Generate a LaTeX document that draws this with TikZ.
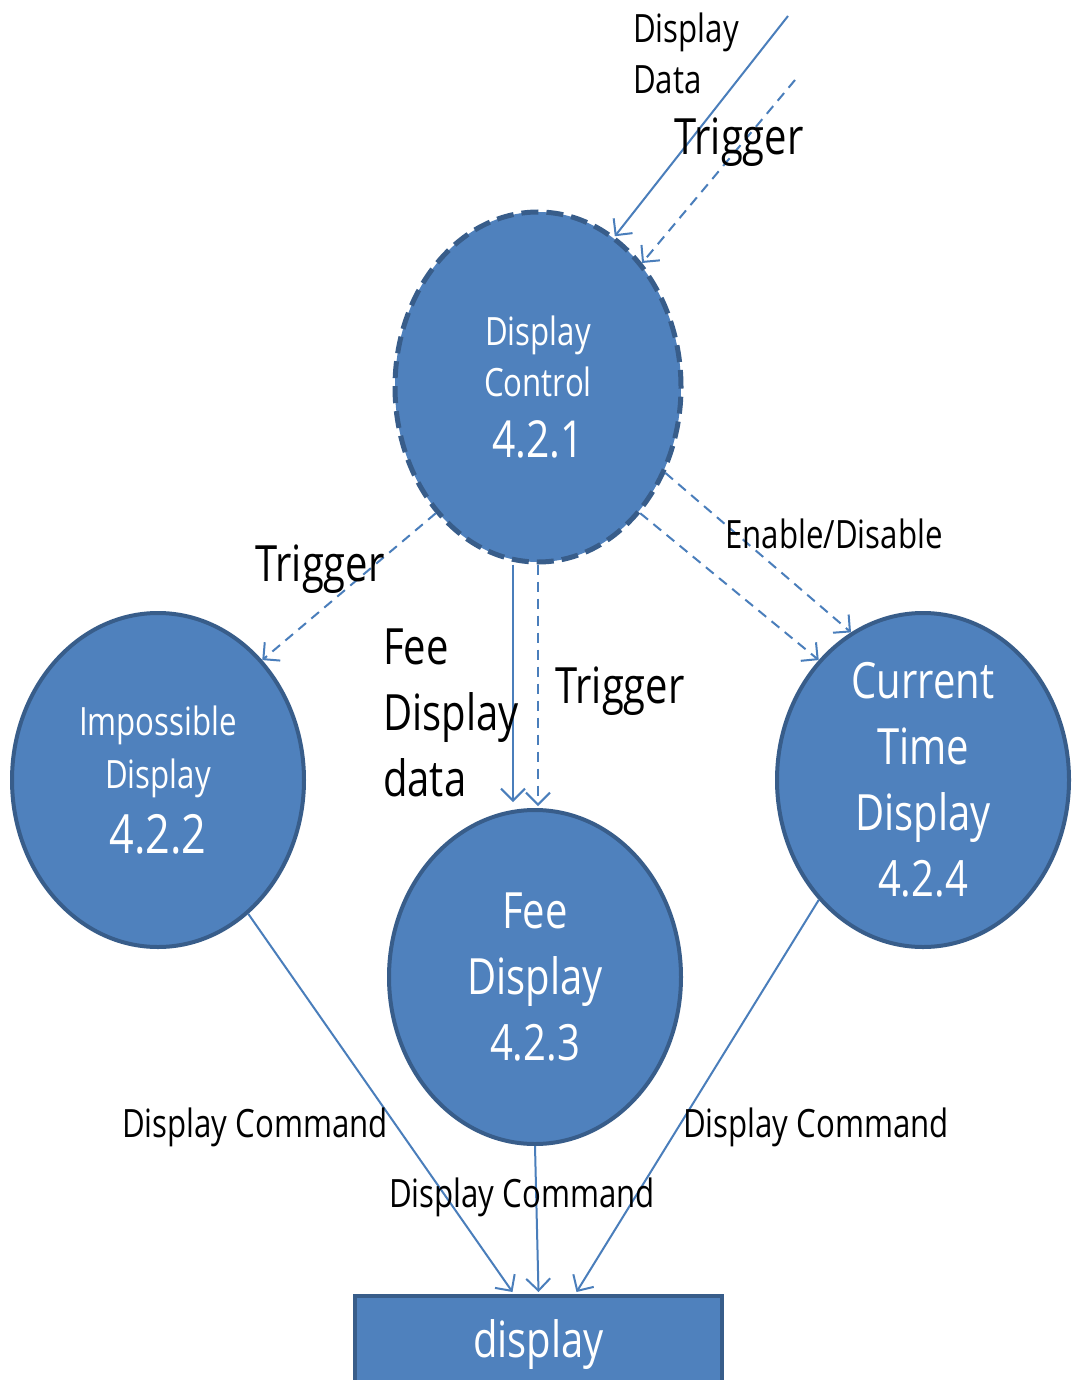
\documentclass[tikz,border=0pt]{standalone}
\usepackage{fontspec}
\setmainfont{Open Sans}[FakeStretch=0.8]
\usetikzlibrary{shapes.geometric,arrows.meta,calc}
\definecolor{fillb}{HTML}{4F81BD}
\definecolor{edgeb}{HTML}{385D8A}
\definecolor{lineb}{HTML}{4A7EBB}
\newcommand\lblsmall{\fontsize{39}{51}\selectfont}
\newcommand\lblbig{\fontsize{50}{66}\selectfont}
\begin{document}
\begin{tikzpicture}[x=1pt,y=-1pt,
  proc/.style={ellipse, fill=fillb, draw=edgeb, line width=4pt, inner sep=0pt,
    minimum width=292pt, minimum height=334pt, text=white, align=center},
  flow/.style={draw=lineb, line width=2pt, -{Straight Barb[length=12pt,width=24pt]}},
  ctrl/.style={flow, dash pattern=on 10pt off 7pt},
  lbl/.style={inner sep=0pt, text=black},
]
\useasboundingbox (0,0) rectangle (1076,1380);
\fill[white] (0,0) rectangle (1076,1380);

% processes
\node[proc, minimum width=286pt, minimum height=350pt, line width=5pt,
  dash pattern=on 17pt off 8pt, font=\lblsmall] (dc) at (538,387)
  {Display\\Control\\[10pt]{\fontsize{51}{60}\selectfont 4.2.1}};
\node[proc, font=\lblsmall] (imp) at (158,780)
  {Impossible\\[2pt]Display\\[14pt]{\fontsize{54}{64}\selectfont 4.2.2}};
\node[proc, font=\lblbig] (fee) at (535,977) {Fee\\Display\\4.2.3};
\node[proc, font=\lblbig] (cur) at (923,780) {Current\\Time\\Display\\4.2.4};
\node[rectangle, fill=fillb, draw=edgeb, line width=4pt, minimum width=367pt,
  minimum height=96pt, inner sep=0pt, text=white, font=\lblbig] (disp) at (538.5,1344) {display};

% free ends
\coordinate (dd) at (788,16);
\coordinate (tt) at (795,80);

% connectors
\draw[flow] (dd) -- (dc.63);
\draw[ctrl] (tt) -- (dc.50);
\draw[ctrl] (dc.231) -- (imp.49);
\draw[ctrl] (dc.-34) -- (cur.116);
\draw[ctrl] (dc.-51) -- (cur.131);
\draw[flow] ([xshift=-25pt]dc.south) -- ([xshift=-25pt,yshift=6pt]dc.south |- fee.north);
\draw[ctrl] (dc.south) -- ([yshift=2pt]dc.south |- fee.north);
\draw[flow] (imp.-56) -- ([xshift=-26pt,yshift=2pt]disp.north);
\draw[flow] (fee.south) -- ([yshift=2pt]disp.north);
\draw[flow] (cur.229) -- ([xshift=38pt,yshift=2pt]disp.north);

% labels
\node[lbl, font=\lblsmall, align=left, anchor=west] (ldd) at (633,53) {Display\\Data};
\node[lbl, font=\lblbig] (ltt) at (739,142) {Trigger};
\node[lbl, font=\lblbig] (ltl) at (320,569) {Trigger};
\node[lbl, font=\lblbig, align=left, anchor=west] (lfd) at (383,713) {Fee\\Display\\data};
\node[lbl, font=\lblbig] (ltm) at (620,691) {Trigger};
\node[lbl, font=\lblsmall] (led) at (834,534) {Enable/Disable};
\node[lbl, font=\lblsmall] (lc1) at (255,1127) {Display Command};
\node[lbl, font=\lblsmall] (lc2) at (522,1197) {Display Command};
\node[lbl, font=\lblsmall] (lc3) at (816,1127) {Display Command};
\end{tikzpicture}
\end{document}
